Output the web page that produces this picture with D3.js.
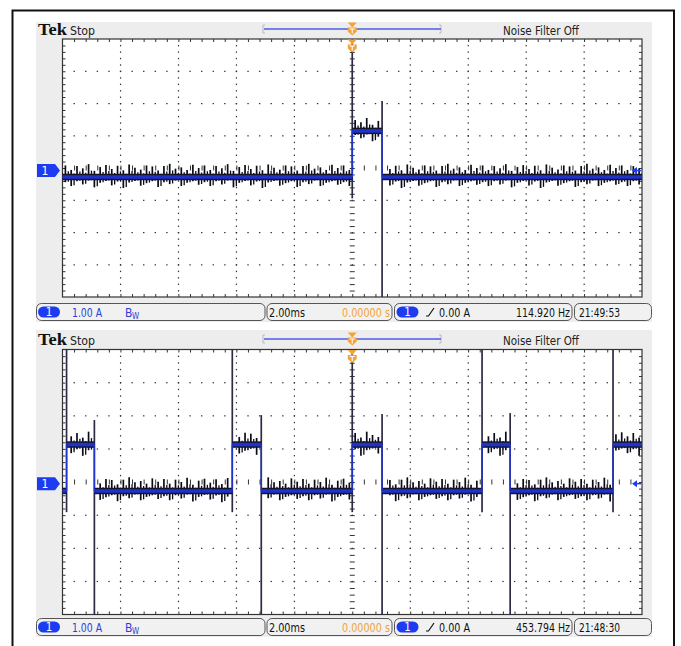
<!DOCTYPE html>
<html><head><meta charset="utf-8">
<script src="https://cdn.jsdelivr.net/npm/d3@7"></script>
<style>body{margin:0;background:#fff}svg{display:block}</style>
</head><body><svg id="c" width="681" height="646"></svg>
<script>
// ---------- data ----------
const timeDomainMs = [-10, 10];           // 2.00 ms/div, 10 divisions, trigger at 0
const ampDomains = [[-3.92, 4.08], [-3.95, 4.05]]; // 1.00 A/div, 8 divisions
// edge times (ms) — trace starts low, toggles at each edge
const p1Edges = [0, 1.03];
const p2Edges = [-9.86, -8.90, -4.14, -3.14, 0, 1.03, 4.48, 5.45, 9.0];
// [low level, high level] in A
const p1Levels = [-0.20, 1.23];
const p2Levels = [-0.22, 1.18];
// overshoot spike ends (A) at falling edges (top) and rising edges (bottom)
const p1FallTops = [2.16];
const p2FallTops = [1.92, 2.07, 2.10, 2.13];
const riseBottoms = [-0.86, -0.86];
// noise spike heights (A), repeating texture
const spikeUp = [0.36,0.22,0.34,0.27,0.40,0.19,0.31,0.37,0.25,0.35,0.21,0.39,0.29,0.23,0.36,0.33,0.20,0.34,0.41,0.26,0.30,0.22,0.38,0.28];
const spikeDown = [0.16,0.28,0.13,0.23,0.11,0.32,0.18,0.12,0.26,0.14,0.34,0.17,0.12,0.27,0.19,0.13,0.31,0.16,0.22,0.11,0.28,0.18,0.13,0.24];
// texts
const headerTek = "Tek", headerState = "Stop", headerFilter = "Noise Filter Off";
const statusVdiv = "1.00 A", statusTdiv = "2.00ms", statusTpos = "0.00000 s", statusTrig = "0.00 A";
const statusFreq = ["114.920 Hz", "453.794 Hz"];
const statusClock = ["21:49:53", "21:48:30"];

const panelsData = [
  {edges: p1Edges, levels: p1Levels, fallTops: p1FallTops, riseBottom: riseBottoms[0], amp: ampDomains[0], off: 0},
  {edges: p2Edges, levels: p2Levels, fallTops: p2FallTops, riseBottom: riseBottoms[1], amp: ampDomains[1], off: 7}
];

// ---------- layout ----------
const layout = [
  {bgTop: 22, bgBot: 322, head: 34.5, gx0: 62.5, gx1: 642, gy0: 39, gy1: 297, st: 303},
  {bgTop: 330, bgBot: 637, head: 344.5, gx0: 62.5, gx1: 642, gy0: 349.5, gy1: 614.5, st: 618}
];
const NARROW = "'Liberation Sans Narrow','DejaVu Sans Condensed','Arial Narrow',sans-serif";
const BLUE = "#1f33cc", CHBLUE = "#1d3cf2", ORANGE = "#f2a43a", TXTBLUE = "#2b3fd6";

const svg = d3.select("#c");
// outer frame
svg.append("rect").attr("x", 12.5).attr("y", 10.5).attr("width", 661.5).attr("height", 660)
  .attr("fill", "none").attr("stroke", "#111").attr("stroke-width", 2);

panelsData.forEach((P, pi) => {
  const L = layout[pi];
  const g = svg.append("g");
  const x = d3.scaleLinear().domain(timeDomainMs).range([L.gx0, L.gx1]);
  const y = d3.scaleLinear().domain(P.amp).range([L.gy1, L.gy0]);
  const dx = (L.gx1 - L.gx0) / 10, dy = (L.gy1 - L.gy0) / 8;

  // gray background
  g.append("rect").attr("x", 36).attr("y", L.bgTop).attr("width", 616).attr("height", L.bgBot - L.bgTop).attr("fill", "#ededed");

  // header
  g.append("text").attr("x", 38).attr("y", L.head).attr("font-family", "'Liberation Serif',serif").attr("font-weight", "bold")
    .attr("font-size", 16).attr("fill", "#111").attr("textLength", 29).attr("lengthAdjust", "spacingAndGlyphs").text(headerTek);
  g.append("text").attr("x", 70).attr("y", L.head).attr("font-family", NARROW).attr("font-size", 12.5).attr("fill", "#222")
    .attr("textLength", 25).attr("lengthAdjust", "spacingAndGlyphs").text(headerState);
  g.append("text").attr("x", 503).attr("y", L.head).attr("font-family", NARROW).attr("font-size", 12.5).attr("fill", "#222")
    .attr("textLength", 76).attr("lengthAdjust", "spacingAndGlyphs").text(headerFilter);
  // trigger position bar
  const by = L.head - 5.5;
  g.append("path").attr("d", `M265,${by-4}H263V${by+4}H265`).attr("fill", "none").attr("stroke", "#bbb").attr("stroke-width", 1);
  g.append("path").attr("d", `M439,${by-4}H441V${by+4}H439`).attr("fill", "none").attr("stroke", "#bbb").attr("stroke-width", 1);
  g.append("line").attr("x1", 264).attr("x2", 441).attr("y1", by).attr("y2", by).attr("stroke", "#4a5ee0").attr("stroke-width", 1.6);

  // graticule
  g.append("rect").attr("x", L.gx0).attr("y", L.gy0).attr("width", L.gx1 - L.gx0).attr("height", L.gy1 - L.gy0).attr("fill", "#fff");
  const dots = g.append("g").attr("fill", "#333");
  for (let i = 1; i < 10; i++) {
    if (i === 5) continue;
    for (let j = 1; j < 40; j++) dots.append("rect").attr("x", L.gx0 + i * dx - 0.5).attr("y", L.gy0 + j * dy / 5 - 0.5).attr("width", 1.2).attr("height", 1.4);
  }
  for (let j = 1; j < 8; j++) {
    if (j === 4) continue;
    for (let i = 1; i < 50; i++) dots.append("rect").attr("x", L.gx0 + i * dx / 5 - 0.6).attr("y", L.gy0 + j * dy - 0.5).attr("width", 1.4).attr("height", 1.2);
  }
  // border ticks using axes (1/5 division)
  const tv = d3.range(1, 50).map(k => timeDomainMs[0] + k * 0.4);
  const av = d3.range(1, 40).map(k => P.amp[0] + k * 0.2);
  const styleAx = sel => { sel.select(".domain").remove(); sel.selectAll("text").remove(); sel.selectAll("line").attr("stroke", "#333"); };
  g.append("g").attr("transform", `translate(0,${L.gy0})`).call(d3.axisTop(x).tickValues(tv).tickSize(-3)).call(styleAx);
  g.append("g").attr("transform", `translate(0,${L.gy1})`).call(d3.axisBottom(x).tickValues(tv).tickSize(-3)).call(styleAx);
  g.append("g").attr("transform", `translate(${L.gx0},0)`).call(d3.axisLeft(y).tickValues(av).tickSize(-3)).call(styleAx);
  g.append("g").attr("transform", `translate(${L.gx1},0)`).call(d3.axisRight(y).tickValues(av).tickSize(-3)).call(styleAx);
  // center axes with ticks
  const cy = L.gy0 + 4 * dy, cx = x(0);
  g.append("g").attr("transform", `translate(0,${cy + 2.5})`).call(d3.axisTop(x).tickValues(tv).tickSize(5)).call(styleAx);
  g.append("g").attr("transform", `translate(${cx + 2.5},0)`).call(d3.axisLeft(y).tickValues(av).tickSize(5)).call(styleAx);
  g.append("rect").attr("x", L.gx0).attr("y", L.gy0).attr("width", L.gx1 - L.gx0).attr("height", L.gy1 - L.gy0)
    .attr("fill", "none").attr("stroke", "#333").attr("stroke-width", 1.2);

  // ----- waveform -----
  const bounds = [timeDomainMs[0], ...P.edges, timeDomainMs[1]];
  const segs = [];
  for (let s = 0; s < bounds.length - 1; s++) segs.push({t0: bounds[s], t1: bounds[s + 1], v: P.levels[s % 2]});
  const stateAt = t => { let s = 0; P.edges.forEach(e => { if (t >= e) s++; }); return s % 2; };

  // overshoot lines at edges
  let fi = 0;
  P.edges.forEach((e, k) => {
    const rising = k % 2 === 0;
    if (rising) g.append("line").attr("x1", x(e)).attr("x2", x(e)).attr("y1", y(P.amp[1])).attr("y2", y(P.riseBottom))
      .attr("stroke", "#2b2b44").attr("stroke-width", 1.7);
    else { g.append("line").attr("x1", x(e)).attr("x2", x(e)).attr("y1", y(P.fallTops[fi++])).attr("y2", y(P.amp[0]))
      .attr("stroke", "#2b2b44").attr("stroke-width", 1.7); }
  });

  // noise spikes
  const sp = g.append("g").attr("stroke", "#0c0c18").attr("stroke-width", 1.7);
  for (let k = 0; k < 100; k++) {
    const t = timeDomainMs[0] + 0.1 + k * 0.2;
    if (P.edges.some(e => Math.abs(e - t) < 0.09)) continue;
    const v = P.levels[stateAt(t)];
    const u = spikeUp[(k + P.off) % spikeUp.length], d = spikeDown[(k + P.off) % spikeDown.length];
    sp.append("line").attr("x1", x(t)).attr("x2", x(t)).attr("y1", y(v + u)).attr("y2", y(v - d));
    const t2 = t + 0.1;
    if (t2 < timeDomainMs[1] && !P.edges.some(e => Math.abs(e - t2) < 0.09)) {
      const v2 = P.levels[stateAt(t2)];
      sp.append("line").attr("x1", x(t2)).attr("x2", x(t2)).attr("y1", y(v2 + u * 0.5)).attr("y2", y(v2 - d * 0.9)).attr("stroke-width", 1.3);
    }
  }
  // black fringe + blue band
  g.append("g").selectAll("line").data(segs).join("line")
    .attr("x1", d => x(d.t0)).attr("x2", d => x(d.t1)).attr("y1", d => y(d.v)).attr("y2", d => y(d.v))
    .attr("stroke", "#15152a").attr("stroke-width", 6.5);
  g.append("g").selectAll("line").data(segs).join("line")
    .attr("x1", d => x(d.t0)).attr("x2", d => x(d.t1)).attr("y1", d => y(d.v)).attr("y2", d => y(d.v))
    .attr("stroke", BLUE).attr("stroke-width", 3.6);
  // blue vertical edges
  g.append("g").selectAll("line").data(P.edges).join("line")
    .attr("x1", d => x(d)).attr("x2", d => x(d)).attr("y1", y(P.levels[0])).attr("y2", y(P.levels[1]))
    .attr("stroke", BLUE).attr("stroke-width", 1.4);

  // channel marker "1"
  const zy = y(0);
  g.append("path").attr("d", `M37,${zy-6.5}H55L60,${zy}L55,${zy+6.5}H37Z`).attr("fill", CHBLUE);
  g.append("text").attr("x", 45).attr("y", zy + 4.5).attr("text-anchor", "middle").attr("font-family", NARROW)
    .attr("font-size", 12).attr("fill", "#fff").text("1");
  // trigger level arrow on right
  g.append("path").attr("d", `M632,${zy}L637,${zy-3.5}L637,${zy+3.5}Z`).attr("fill", CHBLUE);
  g.append("line").attr("x1", 636).attr("x2", 641).attr("y1", zy).attr("y2", zy).attr("stroke", CHBLUE).attr("stroke-width", 1.5);

  // trigger markers (orange)
  const trig = (top) => {
    g.append("path").attr("d", `M${cx-4.5},${top}H${cx+4.5}L${cx},${top+5}Z`).attr("fill", ORANGE);
    g.append("path").attr("d", `M${cx-4.5},${top+5}H${cx+4.5}V${top+9}L${cx},${top+13}L${cx-4.5},${top+9}Z`).attr("fill", ORANGE);
    g.append("path").attr("d", `M${cx-2.5},${top+6.5}H${cx+2.5}M${cx},${top+6.5}V${top+11}`).attr("stroke", "#fff").attr("stroke-width", 1.1);
  };
  trig(L.head - 12);
  trig(L.gy0 + 0.5);

  // ----- status bar -----
  const st = L.st, tb = st + 13.5;
  const boxes = [[36, 265.5], [266.5, 392.5], [394, 572.5], [574, 652]];
  g.append("g").selectAll("rect").data(boxes).join("rect")
    .attr("x", d => d[0] + 0.5).attr("y", st + 0.5).attr("width", d => d[1] - d[0] - 1).attr("height", 17)
    .attr("rx", 5).attr("fill", "#f1f1f1").attr("stroke", "#555").attr("stroke-width", 1);
  const pill = px => {
    g.append("rect").attr("x", px).attr("y", st + 3.5).attr("width", 22).attr("height", 11).attr("rx", 5.5).attr("fill", CHBLUE);
    g.append("text").attr("x", px + 11).attr("y", st + 13).attr("text-anchor", "middle").attr("font-family", NARROW)
      .attr("font-size", 11.5).attr("fill", "#fff").text("1");
  };
  pill(38); pill(396.5);
  const txt = (s, xx, w, col, anchor, fs) => g.append("text").attr("x", xx).attr("y", tb).attr("font-family", NARROW)
    .attr("font-size", fs || 12.5).attr("fill", col).attr("text-anchor", anchor || "start")
    .attr("textLength", w).attr("lengthAdjust", "spacingAndGlyphs").text(s);
  txt(statusVdiv, 72, 30, TXTBLUE);
  g.append("text").attr("x", 125).attr("y", tb).attr("font-family", NARROW).attr("font-size", 12).attr("fill", TXTBLUE).text("B");
  g.append("text").attr("x", 132).attr("y", tb + 2).attr("font-family", NARROW).attr("font-size", 8).attr("fill", TXTBLUE).text("W");
  txt(statusTdiv, 269, 36, "#111");
  txt(statusTpos, 390, 48, ORANGE, "end");
  g.append("path").attr("d", `M426,${st+13}H428.5L434,${st+5}`).attr("fill", "none").attr("stroke", "#111").attr("stroke-width", 1.2);
  txt(statusTrig, 439, 31, "#111");
  txt(statusFreq[pi], 570, 54, "#111", "end", 11.5);
  txt(statusClock[pi], 579, 41, "#111", "start", 11.5);
});
</script></body></html>
